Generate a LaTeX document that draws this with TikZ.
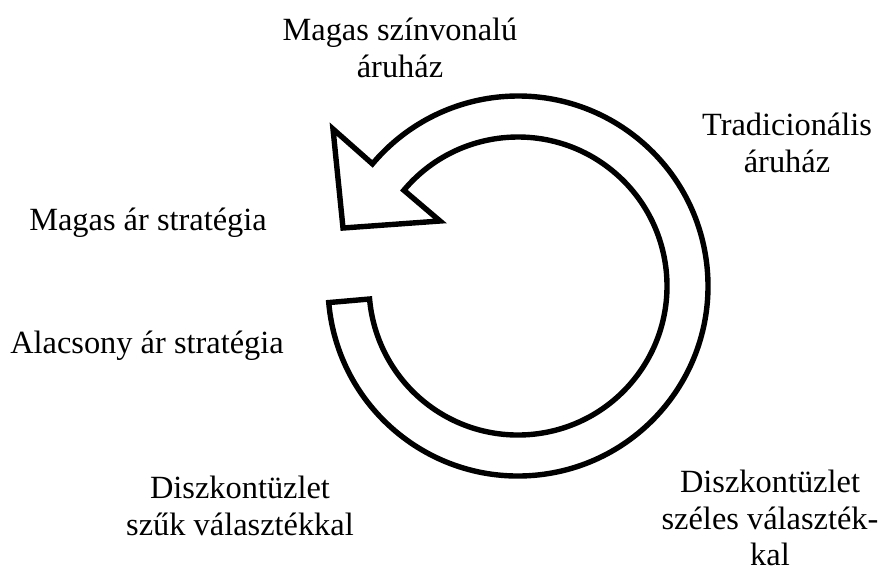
\documentclass[tikz,border=0pt]{standalone}
\usepackage{fontspec}
\setmainfont{Liberation Serif}
\usetikzlibrary{calc}
\begin{document}
\begin{tikzpicture}[x=0.5pt,y=-0.5pt,
  label/.style={font=\fontsize{16.2}{18.4}\selectfont, align=center, inner sep=0pt},
  band/.style={draw=black, fill=white, line width=2.7pt, line join=miter}]
\useasboundingbox (0,0) rectangle (882,570);
% centre of the circular arrow
\coordinate (c) at (518,286);
% tips of the arrow head
\coordinate (barbout) at (333,129);
\coordinate (tip) at (343,228);
\coordinate (barbin) at (440,221);
% the curved band, running from its flat end round to the head
\draw[band] (c) ++(175:190)
  arc[start angle=175, end angle=-140, radius=190]
  -- (barbout) -- (tip) -- (barbin)
  -- ($(c)+(-140:149)$)
  arc[start angle=-140, end angle=175, radius=149]
  -- cycle;
% labels around the cycle
\node[label] (hq) at (400,48) {Magas színvonalú\\áruház};
\node[label] (trad) at (787,143) {Tradicionális\\áruház};
\node[label] (high) at (148,223) {Magas ár stratégia};
\node[label] (low) at (147,346) {Alacsony ár stratégia};
\node[label] (narrow) at (240,506) {Diszkontüzlet\\szűk választékkal};
\node[label] (wide) at (770,518) {Diszkontüzlet\\széles választék-\\kal};
\end{tikzpicture}
\end{document}
